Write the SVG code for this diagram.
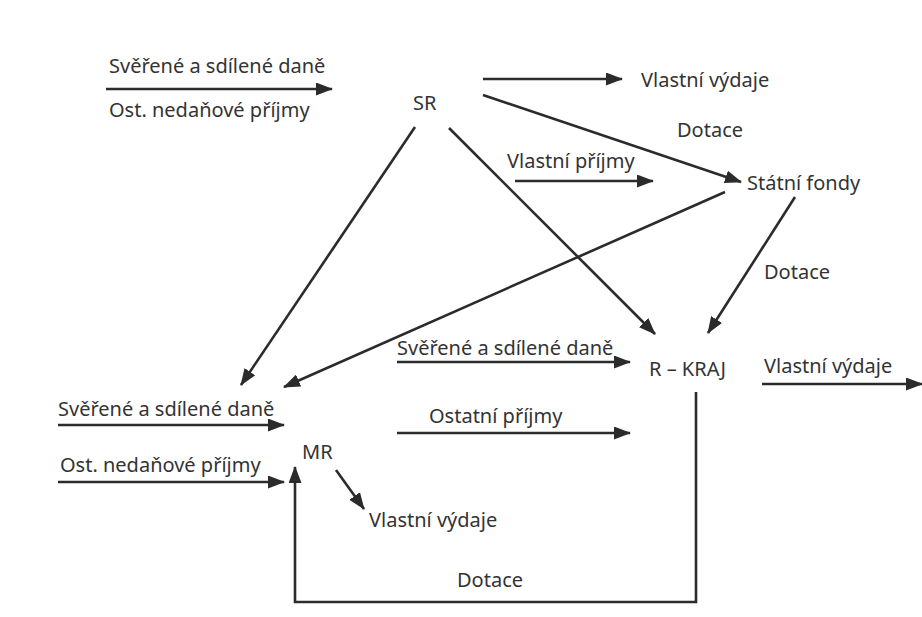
<svg xmlns="http://www.w3.org/2000/svg" width="922" height="617" viewBox="0 0 922 617">
<style>
text{font-family:"Noto Sans","Open Sans","Liberation Sans",sans-serif;font-size:20px;fill:#333}
.c line,.c path{stroke:#2b2b2b;stroke-width:2.6;fill:none}
.a{marker-end:url(#ah)}
</style>
<defs>
<marker id="ah" markerUnits="userSpaceOnUse" markerWidth="17" markerHeight="13" refX="16" refY="6.5" orient="auto">
<path d="M0,0 L17,6.5 L0,13 Z" fill="#2b2b2b"/>
</marker>
</defs>
<rect width="922" height="617" fill="#fff"/>
<g class="c" id="connectors">
<line class="a" x1="106" y1="89" x2="332" y2="89"/>
<line class="a" x1="483" y1="79" x2="622" y2="79"/>
<line class="a" x1="483" y1="95" x2="741" y2="182"/>
<line class="a" x1="515" y1="181" x2="653" y2="181"/>
<line class="a" x1="415" y1="127" x2="241" y2="385"/>
<line class="a" x1="449" y1="128" x2="655" y2="334"/>
<line class="a" x1="725" y1="192" x2="284" y2="387"/>
<line class="a" x1="795" y1="197" x2="708" y2="333"/>
<line class="a" x1="397" y1="362" x2="630" y2="362"/>
<line class="a" x1="397" y1="433" x2="630" y2="433"/>
<line class="a" x1="762" y1="384" x2="922" y2="384"/>
<line class="a" x1="58" y1="425" x2="284" y2="425"/>
<line class="a" x1="58" y1="482" x2="284" y2="482"/>
<line class="a" x1="336" y1="470" x2="364" y2="509"/>
<path class="a" d="M696,392 V602 H295 V467"/>
</g>
<g id="labels">
<text x="109" y="73">Svěřené a sdílené daně</text>
<text x="109" y="117">Ost. nedaňové příjmy</text>
<text x="641" y="87">Vlastní výdaje</text>
<text x="677" y="137">Dotace</text>
<text x="507" y="168">Vlastní příjmy</text>
<text x="764" y="279">Dotace</text>
<text x="397" y="355">Svěřené a sdílené daně</text>
<text x="429" y="423">Ostatní příjmy</text>
<text x="764" y="373">Vlastní výdaje</text>
<text x="58" y="416">Svěřené a sdílené daně</text>
<text x="60" y="472">Ost. nedaňové příjmy</text>
<text x="369" y="527">Vlastní výdaje</text>
<text x="457" y="587">Dotace</text>
</g>
<g id="SR"><text x="413" y="110">SR</text></g>
<g id="StatniFondy"><text x="747" y="190">Státní fondy</text></g>
<g id="RKRAJ"><text x="649" y="376">R – KRAJ</text></g>
<g id="MR"><text x="302" y="459">MR</text></g>
</svg>
